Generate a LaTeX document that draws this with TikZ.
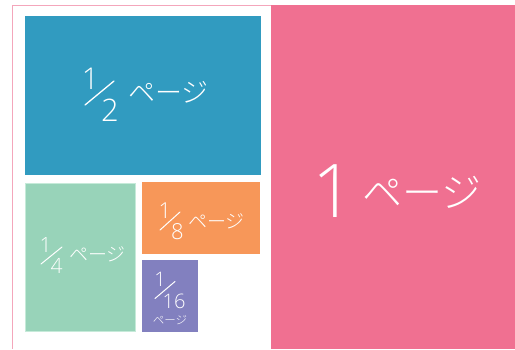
\documentclass[tikz,border=0pt]{standalone}
\usepackage{fontspec}
\newfontfamily\jp{Noto Sans CJK JP Light}
\IfFontExistsTF{Open Sans Light}{\newfontfamily\dig{Open Sans Light}}{%
  \IfFontExistsTF{Noto Sans Light}{\newfontfamily\dig{Noto Sans Light}}{\newfontfamily\dig{Open Sans}}}
\definecolor{framepink}{HTML}{F4A6BB}
\definecolor{pinkc}{HTML}{F07091}
\definecolor{bluec}{HTML}{319BC0}
\definecolor{greenc}{HTML}{98D3B9}
\definecolor{greenline}{HTML}{C6EAD9}
\definecolor{orangec}{HTML}{F79759}
\definecolor{purplec}{HTML}{8280BF}
\tikzset{
  pagebox/.style={rectangle, inner sep=0pt, outer sep=0pt, draw=none},
  txt/.style={text=white, inner sep=0pt, outer sep=0pt},
  slash/.style={white, line cap=round},
}
\newcommand{\fs}[1]{\jp\fontsize{#1}{#1}\selectfont}
\newcommand{\ds}[1]{\dig\fontsize{#1}{#1}\selectfont}
\begin{document}
\begin{tikzpicture}[x=1pt,y=-1pt]
\useasboundingbox (0,0) rectangle (515,349);
\fill[white] (0,0) rectangle (515,349);
\draw[framepink, line width=1pt] (12.5,349) -- (12.5,5.5) -- (515,5.5);
% boxes
\node[pagebox, fill=pinkc, minimum width=244pt, minimum height=344pt, anchor=north west] (one) at (271,5) {};
\node[pagebox, fill=bluec, minimum width=236pt, minimum height=159pt, anchor=north west] (half) at (25,16) {};
\node[pagebox, fill=greenc, draw=greenline, line width=0.8pt, minimum width=110pt, minimum height=148pt, anchor=north west] (quarter) at (25.5,183.5) {};
\node[pagebox, fill=orangec, minimum width=118pt, minimum height=72pt, anchor=north west] (eighth) at (142,182) {};
\node[pagebox, fill=purplec, minimum width=56pt, minimum height=72pt, anchor=north west] (sixteenth) at (142,260) {};
% 1 page
\node[txt, font=\ds{74}, anchor=base] (oneN) at (334,217) {1};
\node[txt, font=\fs{40}, anchor=center] (oneK) at (422,192) {ページ};
% 1/2 page
\node[txt, font=\ds{30}, anchor=base] (halfN) at (90.5,89) {1};
\draw[slash, line width=1.3pt] (85,105) -- (114,81);
\node[txt, font=\ds{31}, anchor=base] (halfD) at (110,121) {2};
\node[txt, font=\fs{27}, anchor=center] (halfK) at (168.5,92) {ページ};
% 1/4 page
\node[txt, font=\ds{21}, anchor=base] (quarterN) at (45.5,252) {1};
\draw[slash, line width=1pt] (41,264) -- (62,247);
\node[txt, font=\ds{21}, anchor=base] (quarterD) at (56.5,273) {4};
\node[txt, font=\fs{19}, anchor=center] (quarterK) at (97.5,254.5) {ページ};
% 1/8 page
\node[txt, font=\ds{22}, anchor=base] (eighthN) at (165,218) {1};
\draw[slash, line width=1pt] (160,230) -- (180,212);
\node[txt, font=\ds{22}, anchor=base] (eighthD) at (177.5,239) {8};
\node[txt, font=\fs{19}, anchor=center] (eighthK) at (216.5,221) {ページ};
% 1/16 page
\node[txt, font=\ds{20}, anchor=base] (sixteenthN) at (160,286.5) {1};
\draw[slash, line width=1pt] (155,298.5) -- (175,281.5);
\node[txt, font=\ds{20}, anchor=base, text depth=0pt] (sixteenthD) at (174,308) {16};
\node[txt, font=\fs{11.5}, anchor=center, text height=8pt, text depth=0pt] (sixteenthK) at (170,320) {ページ};
\end{tikzpicture}
\end{document}
